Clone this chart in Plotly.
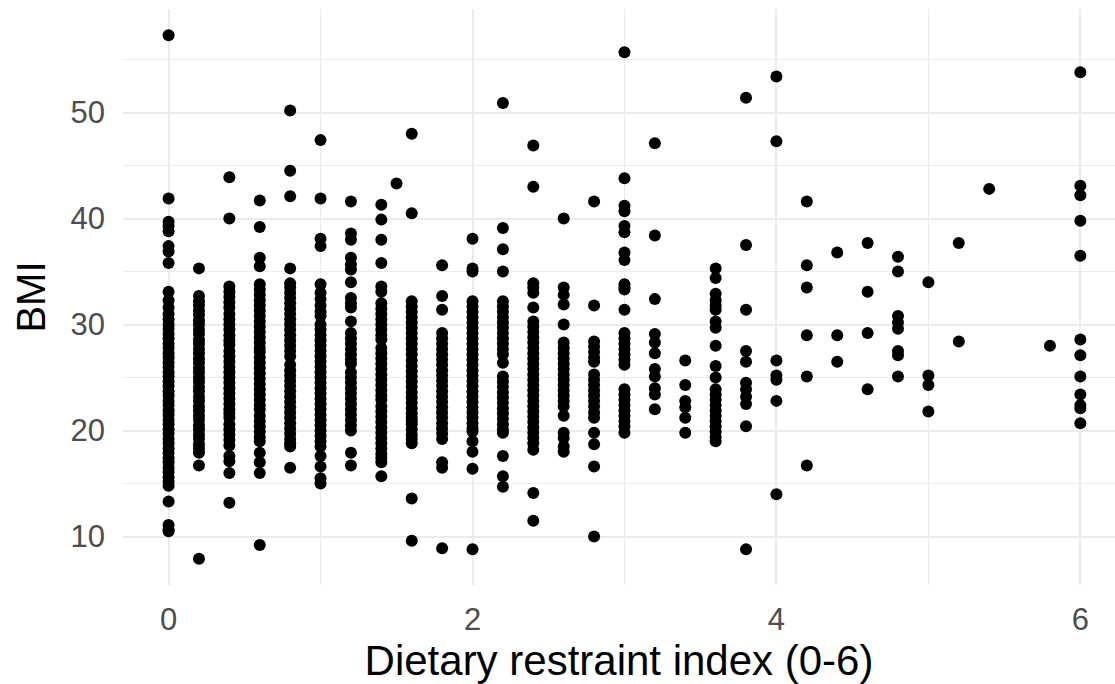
import plotly.graph_objects as go

# Dietary restraint index levels (x positions of the point columns)
restraint_levels = [0.0, 0.2, 0.4, 0.6, 0.8, 1.0, 1.2, 1.4, 1.5, 1.6, 1.8, 2.0, 2.2, 2.4,
                    2.6, 2.8, 3.0, 3.2, 3.4, 3.6, 3.8, 4.0, 4.2, 4.4, 4.6, 4.8, 5.0,
                    5.2, 5.4, 5.8, 6.0]

# BMI observations at each restraint level
bmi_r00 = [57.3, 41.9, 39.7, 39.3, 38.8, 37.4, 36.9, 35.8, 33.1, 32.3, 31.6, 31.0, 30.5, 30.0,
           29.6, 29.1, 28.7, 28.2, 27.8, 27.3, 26.9, 26.4, 26.0, 25.5, 25.1, 24.6, 24.2, 23.7,
           23.3, 22.8, 22.4, 21.9, 21.5, 21.0, 20.6, 20.1, 19.7, 19.2, 18.8, 18.3, 17.9, 17.4,
           17.0, 16.5, 16.1, 15.6, 15.2, 14.8, 13.3, 11.1, 10.7, 10.5]
bmi_r02 = [35.3, 32.7, 32.2, 31.8, 31.3, 30.9, 30.4, 30.0, 29.5, 29.1, 28.6, 28.2, 27.7, 27.3,
           26.8, 26.4, 25.9, 25.5, 25.0, 24.6, 24.1, 23.7, 23.2, 22.8, 22.3, 21.9, 21.4, 21.0,
           20.5, 20.1, 19.6, 19.2, 18.7, 18.3, 17.9, 16.7, 7.9]
bmi_r04 = [43.9, 40.0, 33.6, 33.1, 32.6, 32.1, 31.6, 31.0, 30.5, 30.0, 29.5, 29.0, 28.5, 28.1,
           27.5, 27.0, 26.5, 26.0, 25.5, 25.0, 24.5, 24.0, 23.5, 23.0, 22.5, 22.0, 21.6, 21.2,
           20.6, 20.1, 19.6, 19.1, 18.6, 17.6, 17.1, 16.0, 13.2]
bmi_r06 = [41.7, 39.2, 36.3, 35.5, 33.8, 33.3, 32.8, 32.3, 31.8, 31.3, 30.8, 30.3, 29.8, 29.3,
           28.8, 28.3, 27.8, 27.4, 26.9, 26.4, 25.9, 25.4, 24.9, 24.4, 23.9, 23.4, 22.9, 22.4,
           22.0, 21.4, 20.9, 20.4, 19.9, 19.4, 19.0, 17.9, 17.0, 16.0, 9.2]
bmi_r08 = [50.2, 44.5, 42.1, 35.3, 33.9, 33.5, 33.0, 32.5, 32.0, 31.5, 31.0, 30.5, 30.0, 29.5,
           29.0, 28.5, 28.0, 27.5, 27.0, 26.2, 25.7, 25.2, 24.7, 24.2, 23.7, 23.2, 22.7, 22.2,
           21.7, 21.2, 20.7, 20.2, 19.7, 19.2, 18.8, 18.5, 16.5]
bmi_r10 = [47.4, 41.9, 38.1, 37.4, 33.8, 33.0, 32.4, 31.8, 31.2, 30.8, 30.0, 29.5, 29.0, 28.5,
           28.0, 27.5, 27.0, 26.5, 26.0, 25.5, 25.0, 24.5, 24.0, 23.5, 23.0, 22.5, 22.0, 21.5,
           21.0, 20.5, 20.0, 19.5, 19.0, 18.5, 17.6, 16.6, 15.5, 15.0]
bmi_r12 = [41.6, 38.6, 38.0, 36.3, 35.7, 35.2, 34.0, 32.5, 32.0, 31.6, 30.3, 29.2, 28.7, 28.2,
           27.7, 27.2, 26.7, 26.3, 25.5, 25.0, 24.5, 24.0, 23.5, 23.0, 22.5, 22.0, 21.5, 21.0,
           20.5, 20.0, 17.9, 16.7]
bmi_r14 = [41.3, 39.9, 38.0, 35.8, 33.6, 33.1, 32.0, 31.5, 31.0, 30.5, 30.0, 29.5, 29.0, 28.6,
           27.8, 27.3, 26.8, 26.3, 25.8, 25.3, 24.8, 24.3, 23.8, 23.3, 22.9, 22.3, 21.8, 21.3,
           20.8, 20.3, 19.8, 19.3, 18.8, 18.3, 17.8, 17.4, 17.0, 15.7]
bmi_r15 = [43.3]
bmi_r16 = [48.0, 40.5, 32.2, 31.7, 31.2, 30.7, 30.2, 29.7, 29.2, 28.7, 28.2, 27.7, 27.2, 26.6,
           26.1, 25.6, 25.1, 24.6, 24.1, 23.6, 23.1, 22.6, 22.1, 21.6, 21.2, 20.9, 20.6, 20.1,
           19.6, 19.2, 18.8, 13.6, 9.6]
bmi_r18 = [35.6, 32.7, 31.4, 29.2, 28.7, 28.2, 27.7, 27.2, 26.7, 26.2, 25.7, 25.2, 24.7, 24.2,
           23.7, 23.2, 22.7, 22.2, 21.7, 21.2, 20.7, 20.2, 19.7, 19.2, 17.0, 16.5, 8.9]
bmi_r20 = [38.1, 35.3, 35.0, 32.2, 31.7, 31.2, 30.7, 30.2, 29.7, 29.2, 28.7, 28.2, 27.7, 27.2,
           26.7, 26.2, 25.7, 25.2, 24.7, 24.2, 23.7, 23.2, 22.7, 22.2, 21.7, 21.2, 20.7, 20.2,
           19.9, 19.0, 18.0, 16.4, 8.8]
bmi_r22 = [50.9, 39.1, 37.1, 35.0, 32.2, 31.7, 31.2, 30.7, 30.2, 29.7, 29.2, 28.7, 28.2, 27.7,
           27.2, 26.4, 25.1, 24.6, 24.1, 23.6, 23.1, 22.6, 22.1, 21.6, 21.1, 20.6, 20.1, 19.8,
           17.6, 15.7, 14.7]
bmi_r24 = [46.9, 43.0, 33.9, 33.5, 33.0, 31.6, 30.3, 29.8, 29.3, 28.8, 28.3, 27.8, 27.3, 26.8,
           26.3, 25.8, 25.3, 24.8, 24.3, 23.8, 23.3, 22.8, 22.3, 21.8, 21.3, 20.8, 20.3, 19.8,
           19.3, 18.8, 18.2, 14.1, 11.5]
bmi_r26 = [40.0, 33.5, 32.8, 31.9, 30.0, 28.3, 27.8, 27.3, 26.8, 26.3, 25.8, 25.3, 24.8, 24.3,
           23.8, 23.3, 22.8, 22.3, 21.4, 19.8, 19.3, 18.5, 18.0]
bmi_r28 = [41.6, 31.8, 28.4, 27.9, 27.4, 26.9, 26.5, 25.3, 24.8, 24.3, 23.8, 23.3, 22.8, 22.3,
           21.7, 21.2, 19.8, 18.7, 16.6, 10.0]
bmi_r30 = [55.7, 43.8, 41.2, 40.7, 39.3, 38.7, 36.8, 36.1, 33.8, 33.5, 33.3, 31.4, 29.2, 28.7,
           28.2, 27.7, 27.2, 26.7, 26.2, 23.9, 23.4, 22.9, 22.4, 21.9, 21.4, 20.9, 20.4, 19.8]
bmi_r32 = [47.1, 38.4, 32.4, 29.1, 28.3, 27.3, 25.8, 25.1, 24.0, 23.4, 22.0]
bmi_r34 = [26.6, 24.3, 22.8, 22.2, 21.2, 19.8]
bmi_r36 = [35.3, 34.4, 32.9, 32.3, 31.8, 31.4, 30.3, 29.7, 28.0, 26.1, 25.0, 23.9, 23.4, 22.9,
           22.4, 21.9, 21.4, 20.9, 20.4, 19.9, 19.4, 19.0]
bmi_r38 = [51.4, 37.5, 31.4, 27.5, 26.5, 24.5, 23.9, 23.2, 22.5, 20.4, 8.8]
bmi_r40 = [53.4, 47.3, 26.6, 25.2, 24.8, 22.8, 14.0]
bmi_r42 = [41.6, 35.6, 33.5, 29.0, 25.1, 16.7]
bmi_r44 = [36.8, 29.0, 26.5]
bmi_r46 = [37.7, 33.1, 29.2, 23.9]
bmi_r48 = [36.4, 35.0, 30.8, 30.2, 29.6, 27.5, 27.1, 25.1]
bmi_r50 = [34.0, 25.2, 24.3, 21.8]
bmi_r52 = [37.7, 28.4]
bmi_r54 = [42.8]
bmi_r58 = [28.0]
bmi_r60 = [53.8, 43.1, 42.2, 39.8, 36.5, 28.6, 27.1, 25.1, 23.4, 22.4, 22.1, 20.7]

bmi_by_level = [bmi_r00, bmi_r02, bmi_r04, bmi_r06, bmi_r08, bmi_r10, bmi_r12, bmi_r14,
                bmi_r15, bmi_r16, bmi_r18, bmi_r20, bmi_r22, bmi_r24, bmi_r26, bmi_r28,
                bmi_r30, bmi_r32, bmi_r34, bmi_r36, bmi_r38, bmi_r40, bmi_r42, bmi_r44,
                bmi_r46, bmi_r48, bmi_r50, bmi_r52, bmi_r54, bmi_r58, bmi_r60]

x_ticks = [0, 2, 4, 6]
y_ticks = [10, 20, 30, 40, 50]

xs, ys = [], []
for level, values in zip(restraint_levels, bmi_by_level):
    xs.extend([level] * len(values))
    ys.extend(values)

FONT = "Liberation Sans, Arial, Helvetica, sans-serif"
GRID = "#EBEBEB"

fig = go.Figure(go.Scatter(
    x=xs, y=ys, mode="markers",
    marker=dict(color="black", size=12, line=dict(width=0)),
    hoverinfo="skip",
))

fig.update_layout(
    width=1115, height=684,
    margin=dict(l=123, r=0, t=9, b=99),
    paper_bgcolor="white", plot_bgcolor="white",
    font=dict(family=FONT),
    showlegend=False,
)

fig.update_xaxes(
    range=[-0.3, 6.228],
    tickvals=x_ticks, ticktext=[str(v) for v in x_ticks],
    tickfont=dict(size=31, color="#4D4D4D"),
    ticks="", ticklabelstandoff=13,
    showgrid=True, gridcolor=GRID, gridwidth=2.2,
    minor=dict(dtick=1, tick0=0, showgrid=True, gridcolor=GRID, gridwidth=1.1),
    zeroline=False, showline=False, automargin=False,
    title=dict(text="Dietary restraint index (0-6)", font=dict(size=42, color="black"), standoff=6),
)
fig.update_yaxes(
    range=[5.43, 59.77],
    tickvals=y_ticks, ticktext=[str(v) for v in y_ticks],
    tickfont=dict(size=31, color="#4D4D4D"),
    ticks="", ticklabelstandoff=17,
    showgrid=True, gridcolor=GRID, gridwidth=2.2,
    minor=dict(dtick=5, tick0=0, showgrid=True, gridcolor=GRID, gridwidth=1.1),
    zeroline=False, showline=False, automargin=False,
    title=dict(text="BMI", font=dict(size=40, color="black"), standoff=12),
)

fig.write_html("out.html")
